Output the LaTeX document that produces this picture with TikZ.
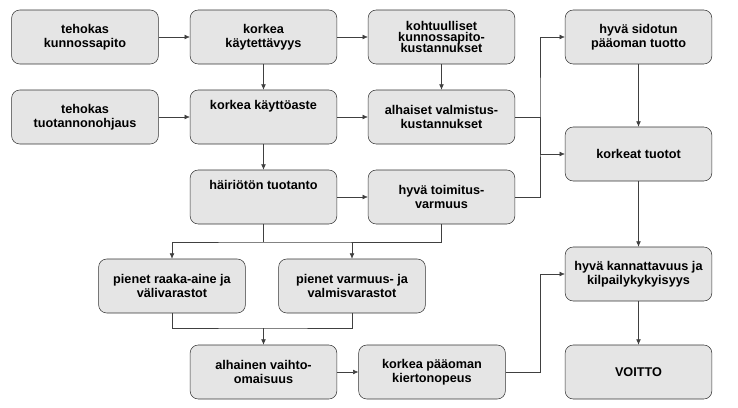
\documentclass[tikz,border=0pt]{standalone}
\usepackage{fontspec}
\setmainfont{Liberation Sans}
\usetikzlibrary{positioning, calc, arrows.meta}

\begin{document}
\begin{tikzpicture}[x=0.75pt, y=-0.75pt]
  \tikzstyle{coord}=[inner sep=0pt, outer sep=0pt]
  \tikzstyle{stage}=[rounded corners=6pt, draw=black!80, fill=black!10, minimum width=110pt, minimum height=40.5pt,
    align=center, inner sep=2pt, font=\fontsize{9.5}{10.5}\selectfont\bfseries]
  \tikzstyle{link}=[draw=black!75, -{Latex[length=4pt, width=3.5pt]}]
  \tikzstyle{line}=[draw=black!75]
  \useasboundingbox (0,0) rectangle (738,407);

  % first column
  \node (kunnossa) at (85,37) [stage] {tehokas\\kunnossapito};
  \node (ohjaus) at (85,117) [stage] {tehokas\\tuotannonohjaus};

  % second and third column
  \node (kaytett) at (263.5,37) [stage] {korkea\\käytettävyys};
  \node (kaytto) at (263.5,117) [stage] {korkea käyttöaste\\[7pt]};
  \node (hairio) at (263.5,197) [stage] {häiriötön tuotanto\\[7pt]};
  \node (kustkp) at (441.5,37) [stage] {kohtuulliset\\[-2pt]kunnossapito-\\[-2pt]kustannukset};
  \node (kustval) at (441.5,117) [stage] {alhaiset valmistus-\\kustannukset};
  \node (toimitus) at (441.5,197) [stage] {hyvä toimitus-\\varmuus};

  % inventories and capital
  \node (raaka) at (172,286) [stage] {pienet raaka-aine ja\\välivarastot};
  \node (valmis) at (352,286) [stage] {pienet varmuus- ja\\valmisvarastot};
  \node (vaihto) at (263.5,372) [stage] {alhainen vaihto-\\omaisuus};
  \node (kierto) at (432,372) [stage] {korkea pääoman\\kiertonopeus};

  % results
  \node (sidottu) at (638.5,37) [stage] {hyvä sidotun\\pääoman tuotto};
  \node (tuotot) at (638.5,154) [stage] {korkeat tuotot};
  \node (kannatt) at (638.5,274) [stage] {hyvä kannattavuus ja\\kilpailykykyisyys};
  \node (voitto) at (638.5,372) [stage] {VOITTO};

  % helper points
  \coordinate (busr) at (540,117);
  \coordinate (busk) at (540,274);
  \coordinate (busd) at (263.5,242);
  \coordinate (busv) at (263.5,328);

  % connections
  \draw[link] (kunnossa) -- (kaytett);
  \draw[link] (ohjaus) -- (kaytto);
  \draw[link] (kaytett) -- (kustkp);
  \draw[link] (kaytett) -- (kaytto);
  \draw[link] (kaytto) -- (kustval);
  \draw[link] (kaytto) -- (hairio);
  \draw[link] (kustkp) -- (kustval);
  \draw[link] (hairio) -- (toimitus);
  \draw[line] (kustval.east) -- (busr);
  \draw[link] (toimitus.east) -| (busr) |- (sidottu.west);
  \draw[link] (busr) |- (tuotot.west);
  \draw[link] (sidottu) -- (tuotot);
  \draw[link] (tuotot) -- (kannatt);
  \draw[link] (kannatt) -- (voitto);
  \draw[line] (hairio.south) -- (busd);
  \draw[link] (toimitus.south) |- (busd) -| (raaka.north);
  \draw[link] (busd -| valmis.north) -- (valmis.north);
  \draw[line] (raaka.south) |- (busv) -| (valmis.south);
  \draw[link] (busv) -- (vaihto.north);
  \draw[link] (vaihto) -- (kierto);
  \draw[link] (kierto.east) -| (busk) -- (kannatt.west);
\end{tikzpicture}
\end{document}
